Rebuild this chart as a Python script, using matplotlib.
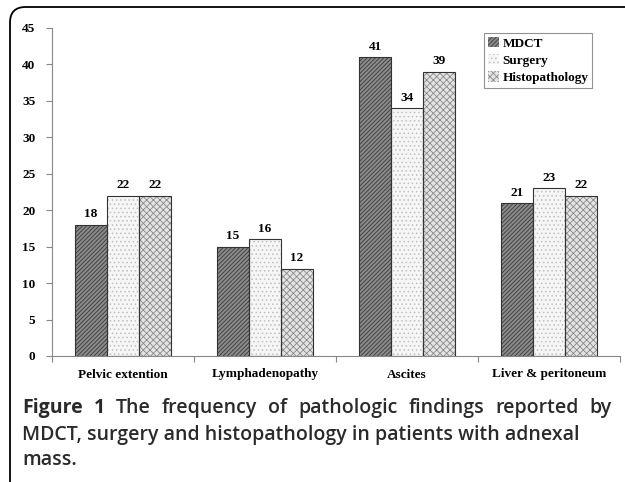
import matplotlib
matplotlib.use("Agg")
import matplotlib.pyplot as plt
from matplotlib.patches import FancyBboxPatch
import numpy as np

categories = ["Pelvic extention", "Lymphadenopathy", "Ascites", "Liver & peritoneum"]
series_names = ["MDCT", "Surgery", "Histopathology"]
mdct = [18, 15, 41, 21]
surgery = [22, 16, 34, 23]
histo = [22, 12, 39, 22]
yticks = [0, 5, 10, 15, 20, 25, 30, 35, 40, 45]

plt.rcParams['hatch.linewidth'] = 0.6

fig = plt.figure(figsize=(6.25, 4.82), dpi=100)
W, H = 625, 482

# rounded frame (open to right)
frame = FancyBboxPatch((10 / W, -20 / H), 700 / W, (482 - 7 + 20) / H,
                       boxstyle="round,pad=0,rounding_size=0.025",
                       transform=fig.transFigure, fill=False,
                       edgecolor="black", linewidth=1.3, mutation_aspect=W / H)
fig.patches.append(frame)

ax = fig.add_axes([52 / W, 1 - 356 / H, (620 - 52) / W, (356 - 28) / H])
ax.set_xlim(0, len(categories))
ax.set_ylim(0, 45)

x = np.arange(len(categories)) + 0.5
bw = 0.225
styles = [
    dict(facecolor="#8a8a8a", hatch="////////", edgecolor="#3a3a3a"),
    dict(facecolor="#f6f6f6", hatch="....", edgecolor="#c0c0c0"),
    dict(facecolor="#e4e4e4", hatch="xxxxx", edgecolor="#8a8a8a"),
]
data = [mdct, surgery, histo]
tf = dict(family="Liberation Serif", weight="bold")
for i, (vals, st, name) in enumerate(zip(data, styles, series_names)):
    xs = x + (i - 1) * bw
    ax.bar(xs, vals, width=bw, facecolor=st["facecolor"], hatch=st["hatch"],
           edgecolor=st["edgecolor"], linewidth=0, label=name, zorder=2)
    ax.bar(xs, vals, width=bw, facecolor="none", edgecolor="#333333", linewidth=0.8, zorder=3)
    for xx, v in zip(xs, vals):
        ax.text(xx, v + 0.6, str(v), ha="center", va="bottom", fontsize=9.5, **tf)

for s in ["top", "right"]:
    ax.spines[s].set_visible(False)
for s in ["left", "bottom"]:
    ax.spines[s].set_color("#888888")
    ax.spines[s].set_linewidth(0.8)

ax.set_yticks(yticks)
ax.set_yticklabels([str(t) for t in yticks], fontsize=9.5, **tf)
ax.tick_params(axis="y", length=4, color="#888888", pad=8)
ax.set_xticks(np.arange(len(categories) + 1), minor=False)
ax.set_xticklabels([])
ax.tick_params(axis="x", which="major", length=4, color="#888888", direction="out")
ax.set_xticks(x, minor=True)
ax.set_xticklabels(categories, minor=True, fontsize=9.5, **tf)
ax.tick_params(axis="x", which="minor", length=0, pad=9)

leg = ax.legend(loc="upper left", bbox_to_anchor=((484 - 52) / (620 - 52), 1 - (33 - 28) / (356 - 28)),
                prop=dict(family="Liberation Serif", weight="bold", size=9.5),
                frameon=True, fancybox=False, borderpad=0.3, labelspacing=0.35,
                handlelength=0.8, handleheight=0.8, handletextpad=0.3, borderaxespad=0)
leg.get_frame().set_edgecolor("#777777")
leg.get_frame().set_linewidth(0.8)

cap_font = "Open Sans"
cap_col = "#2a2a2a"
fs = 14
# justified first line
words = ["Figure", "1", "The", "frequency", "of", "pathologic", "findings", "reported", "by"]
left, right = 22, 612
y1 = 1 - 408 / H
texts = []
for k, w in enumerate(words):
    t = fig.text(0, y1, w, fontsize=fs, family=cap_font, color=cap_col, va="center",
                 weight="bold" if k < 2 else "semibold")
    texts.append(t)
fig.canvas.draw()
r = fig.canvas.get_renderer()
widths = [t.get_window_extent(r).width for t in texts]
gap = (right - left - sum(widths)) / (len(words) - 1)
xpos = left
for t, wdt in zip(texts, widths):
    t.set_x(xpos / W)
    xpos += wdt + gap

fig.text(22 / W, 1 - 435 / H, "MDCT, surgery and histopathology in patients with adnexal",
         fontsize=fs, family=cap_font, color=cap_col, va="center", weight="semibold")
fig.text(22 / W, 1 - 460 / H, "mass.", fontsize=fs, family=cap_font, color=cap_col, va="center",
         weight="semibold")

fig.savefig("out.png", dpi=100)
